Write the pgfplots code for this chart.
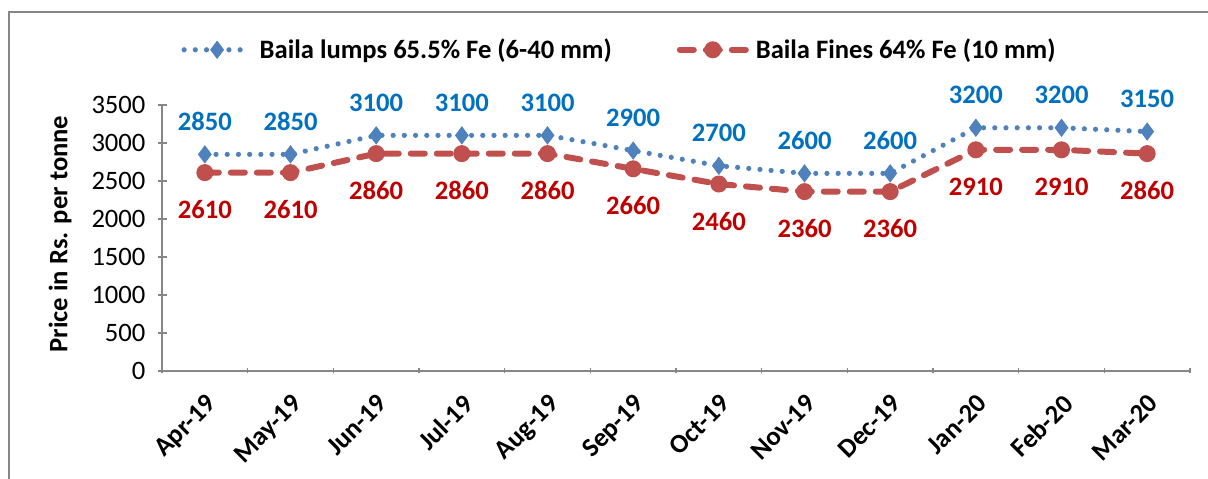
\documentclass[border=0pt]{standalone}
\usepackage{pgfplots}
\pgfplotsset{compat=1.18}
\usepackage{fontspec}
\setmainfont{Carlito}
\definecolor{lblue}{HTML}{4F81BD}
\definecolor{lred}{HTML}{C0504D}
\definecolor{tblue}{HTML}{0070C0}
\definecolor{tred}{HTML}{C00000}
\definecolor{axgray}{HTML}{868686}
\newcommand{\fs}{\fontsize{13.3}{15.5}\selectfont}
\begin{document}
\begin{tikzpicture}
\begin{axis}[
  scale only axis,
  width=514pt, height=133pt,
  xmin=-0.5, xmax=11.5,
  ymin=0, ymax=3500,
  ytick={0,500,...,3500},
  xtick={0,...,11},
  xticklabels={Apr-19,May-19,Jun-19,Jul-19,Aug-19,Sep-19,Oct-19,Nov-19,Dec-19,Jan-20,Feb-20,Mar-20},
  minor xtick={-0.5,0.5,...,11.5},
  every major x tick/.append style={draw=none},
  tick align=outside,
  major tick length=4.5pt,
  minor tick length=2.5pt,
  axis x line=bottom, axis y line=left,
  axis line style={-, draw=axgray, line width=0.75pt},
  every tick/.append style={axgray, line width=0.75pt},
  scaled y ticks=false,
  /pgf/number format/1000 sep={},
  /pgf/number format/assume math mode=true,
  tick label style={font=\fs, black},
  y tick label style={xshift=-2.5pt},
  x tick label style={font=\fs\bfseries, rotate=45, anchor=north east, inner sep=1pt, yshift=-5pt, xshift=-5pt},
  ylabel={Price in Rs. per tonne},
  every axis y label/.style={at={(rel axis cs:-0.0992,0.515)}, rotate=90, anchor=center, font=\fs\bfseries},
  clip=false,
  legend columns=2,
  legend style={draw=none, at={(rel axis cs:0.4475,1.2075)}, anchor=center, font=\fs\bfseries, /tikz/every even column/.append style={column sep=29pt}, inner sep=0pt,
    nodes={inner sep=3.5pt}},
  legend image code/.code={
    \draw[#1] (0pt,0pt) -- (33pt,0pt);
    \draw[#1, solid, only marks] plot coordinates {(16.5pt,0pt)};
  },
  nodes near coords,
  nodes near coords style={font=\fs\bfseries, /pgf/number format/assume math mode=true},
]
\addplot[lblue, line width=2.6pt, line cap=round, dash pattern=on 0pt off 5.6pt,
  mark=diamond*, mark size=4.2pt, mark options={solid, fill=lblue, draw=lblue, line width=0.5pt},
  every node near coord/.append style={tblue, anchor=center, yshift=16.5pt}]
coordinates {(0,2850)(1,2850)(2,3100)(3,3100)(4,3100)(5,2900)(6,2700)(7,2600)(8,2600)(9,3200)(10,3200)(11,3150)};
\addlegendentry{Baila lumps 65.5\% Fe (6-40 mm)}
\addplot[lred, line width=3pt, line cap=round, dash pattern=on 7pt off 6pt,
  mark=*, mark size=4pt, mark options={solid, fill=lred, draw=lred, line width=0.5pt},
  every node near coord/.append style={tred, anchor=center, yshift=-18.5pt}]
coordinates {(0,2610)(1,2610)(2,2860)(3,2860)(4,2860)(5,2660)(6,2460)(7,2360)(8,2360)(9,2910)(10,2910)(11,2860)};
\addlegendentry{Baila Fines 64\% Fe (10 mm)}
\coordinate (tl) at (rel axis cs:-0.1576,1.3947);
\coordinate (br) at (rel axis cs:1.0175,-0.406);
\coordinate (fl) at (rel axis cs:-0.1488,1.3496);
\end{axis}
\draw[axgray, line width=1pt] (fl |- br) -- (fl) -- (fl -| br);
\pgfresetboundingbox
\path[use as bounding box] (tl) rectangle (br);
\end{tikzpicture}
\end{document}
